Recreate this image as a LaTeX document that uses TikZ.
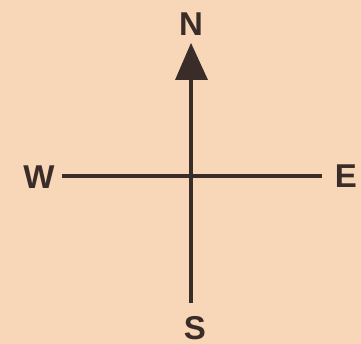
\documentclass[tikz,border=0pt]{standalone}
\usepackage{fontspec}
\setmainfont{Liberation Sans}
\definecolor{bg}{RGB}{248,214,184}
\definecolor{ink}{RGB}{58,44,40}
\begin{document}
\begin{tikzpicture}[x=1pt,y=-1pt,
  letter/.style={text=ink,font=\fontsize{33}{33}\selectfont\bfseries,inner sep=0pt},
  axis/.style={draw=ink,line width=4pt}]
\fill[bg] (0,0) rectangle (361,344);
\useasboundingbox (0,0) rectangle (361,344);
\node[letter] (N) at (191,24) {N};
\node[letter] (W) at (39,177) {W};
\node[letter] (E) at (346,176) {E};
\node[letter] (S) at (195,328) {S};
\coordinate (tip) at (191,43);
\coordinate (bl) at (175,80);
\coordinate (br) at (208,80);
\coordinate (top) at (191,79);
\coordinate (bot) at (191,303);
\coordinate (left) at (62,176);
\coordinate (right) at (322,176);
\draw[axis] (top) -- (bot);
\draw[axis] (left) -- (right);
\fill[ink] (tip) -- (br) -- (bl) -- cycle;
\end{tikzpicture}
\end{document}
